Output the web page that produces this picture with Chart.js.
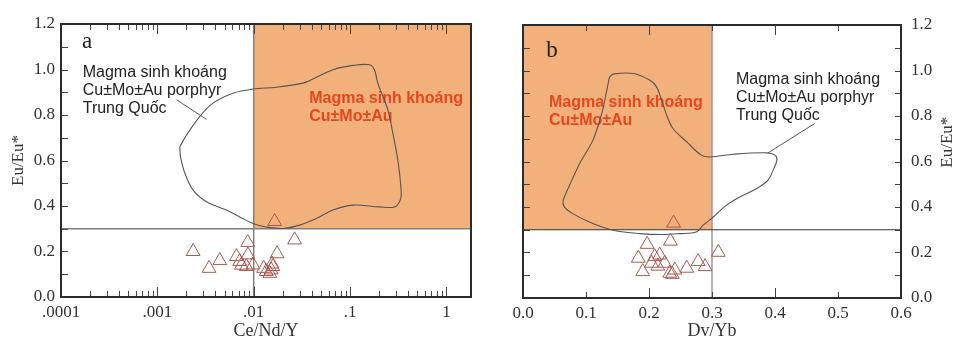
<!DOCTYPE html>
<html>
<head>
<meta charset="utf-8">
<script src="https://cdn.jsdelivr.net/npm/chart.js@4.4.0/dist/chart.umd.min.js"></script>
<style>
  html, body { margin: 0; padding: 0; background: #fff; }
  #wrap { position: relative; width: 954px; height: 342px; }
  #boxA { position: absolute; left: 0; top: 0; }
  #boxB { position: absolute; left: 480px; top: 0; }
</style>
</head>
<body>
<div id="wrap">
  <div id="boxA"><canvas id="chartA" width="480" height="342"></canvas></div>
  <div id="boxB"><canvas id="chartB" width="474" height="342"></canvas></div>
</div>
<script>
// ---- panel a : Eu/Eu* vs Ce/Nd/Y ----
const tickValuesA = [0.0001, 0.001, 0.01, 0.1, 1];
const tickLabelsA = ['.0001', '.001', '.01', '.1', '1'];
const ceNdY = [0.00235, 0.00344, 0.00445, 0.00662, 0.00716, 0.00746, 0.00867, 0.0087, 0.0084, 0.00984,
               0.0127, 0.0135, 0.0147, 0.0152, 0.0155, 0.0158, 0.0175, 0.0165, 0.0266];
const euA = [0.200, 0.126, 0.160, 0.178, 0.156, 0.140, 0.240, 0.185, 0.134, 0.141,
             0.126, 0.112, 0.104, 0.119, 0.145, 0.134, 0.190, 0.332, 0.251];

// field of porphyry magmas in China (outline), panel a
const outlineAx = [0.00171, 0.00201, 0.00275, 0.00378, 0.0061, 0.00984, 0.0172, 0.0324, 0.0412, 0.0664,
                   0.107, 0.159, 0.179, 0.194, 0.247, 0.278, 0.313, 0.340, 0.326, 0.289,
                   0.202, 0.107, 0.0664, 0.0447, 0.030, 0.0201, 0.0135, 0.00984, 0.00716, 0.00521,
                   0.00324, 0.00235, 0.00193, 0.00174, 0.00171];
const outlineAy = [0.661, 0.712, 0.793, 0.852, 0.896, 0.914, 0.922, 0.940, 0.958, 0.999,
                   1.018, 1.021, 0.999, 0.940, 0.822, 0.720, 0.602, 0.455, 0.419, 0.396,
                   0.396, 0.404, 0.382, 0.345, 0.316, 0.301, 0.308, 0.323, 0.352, 0.382,
                   0.419, 0.470, 0.544, 0.617, 0.661];
const leaderAx = [0.00158, 0.00324];
const leaderAy = [0.867, 0.781];

// ---- panel b : Eu/Eu* vs Dy/Yb ----
const tickValuesB = [0, 0.1, 0.2, 0.3, 0.4, 0.5, 0.6];
const tickLabelsB = ['0.0', '0.1', '0.2', '0.3', '0.4', '0.5', '0.6'];
const dyYb = [0.239, 0.234, 0.197, 0.183, 0.209, 0.217, 0.204, 0.225, 0.190, 0.233,
              0.241, 0.237, 0.260, 0.278, 0.289, 0.310, 0.214];
const euB = [0.329, 0.250, 0.236, 0.175, 0.182, 0.189, 0.153, 0.153, 0.116, 0.109,
             0.123, 0.104, 0.131, 0.160, 0.138, 0.201, 0.140];

const outlineBx = [0.137, 0.143, 0.175, 0.201, 0.212, 0.220, 0.228, 0.238, 0.260, 0.283,
                   0.297, 0.334, 0.387, 0.400, 0.403, 0.397, 0.389, 0.371, 0.344, 0.323,
                   0.302, 0.286, 0.275, 0.249, 0.222, 0.185, 0.143, 0.111, 0.079, 0.065,
                   0.064, 0.074, 0.090, 0.111, 0.125, 0.132, 0.137];
const outlineBy = [0.970, 0.984, 0.987, 0.958, 0.928, 0.870, 0.804, 0.745, 0.686, 0.628,
                   0.620, 0.632, 0.638, 0.628, 0.606, 0.562, 0.518, 0.481, 0.444, 0.408,
                   0.356, 0.320, 0.290, 0.283, 0.279, 0.283, 0.298, 0.327, 0.371, 0.403,
                   0.430, 0.496, 0.591, 0.694, 0.811, 0.899, 0.970];
const leaderBx = [0.389, 0.463];
const leaderBy = [0.638, 0.767];

const tickValuesEu = [0, 0.2, 0.4, 0.6, 0.8, 1.0, 1.2];

const SERIF = "'Liberation Serif', 'Times New Roman', serif";
const SANS = "'Liberation Sans', Arial, sans-serif";
const FIELD_FILL = '#f2b07b';
const RED_TEXT = '#e8461e';
const TRI_COLOR = '#a85a50';
const OUTLINE = '#555555';
const INK = '#2b2b2b';

const pts = (xs, ys) => xs.map((v, i) => ({ x: v, y: ys[i] }));

function drawLines(ctx, lines, x, y, lh, font, color) {
  ctx.font = font;
  ctx.fillStyle = color;
  ctx.textAlign = 'left';
  ctx.textBaseline = 'middle';
  lines.forEach((t, i) => ctx.fillText(t, x, y + i * lh));
}

const decor = {
  id: 'decor',
  beforeDatasetsDraw(chart, args, o) {
    const { ctx, chartArea: a, scales: { x, y } } = chart;
    ctx.save();
    // shaded field
    const fx0 = x.getPixelForValue(o.field[0]), fx1 = x.getPixelForValue(o.field[1]);
    const fy0 = y.getPixelForValue(o.field[2]), fy1 = y.getPixelForValue(o.field[3]);
    ctx.fillStyle = FIELD_FILL;
    ctx.fillRect(Math.min(fx0, fx1), Math.min(fy0, fy1), Math.abs(fx1 - fx0), Math.abs(fy1 - fy0));
    // threshold lines
    const vx = x.getPixelForValue(o.vline);
    ctx.strokeStyle = o.vColor;
    ctx.lineWidth = 1.5;
    ctx.beginPath(); ctx.moveTo(vx, a.top); ctx.lineTo(vx, a.bottom); ctx.stroke();
    const hy = y.getPixelForValue(o.hline);
    ctx.strokeStyle = o.hColor;
    ctx.lineWidth = o.hWidth;
    ctx.beginPath(); ctx.moveTo(a.left, hy); ctx.lineTo(a.right, hy); ctx.stroke();
    // labels
    o.labels.forEach(l => {
      drawLines(ctx, l.lines, x.getPixelForValue(l.x), y.getPixelForValue(l.y), l.lh, l.font, l.color);
    });
    ctx.font = '23px ' + SERIF;
    ctx.fillStyle = '#222';
    ctx.textBaseline = 'alphabetic';
    ctx.fillText(o.letter.text, x.getPixelForValue(o.letter.x), y.getPixelForValue(o.letter.y));
    ctx.restore();
  },
  afterDatasetsDraw(chart, args, o) {
    const { ctx, chartArea: a, scales: { x, y } } = chart;
    ctx.save();
    ctx.strokeStyle = '#444';
    ctx.lineWidth = 1;
    ctx.beginPath();
    // inward ticks on x (bottom and top)
    o.xTicks.forEach(t => {
      const px = Math.round(x.getPixelForValue(t.v)) + 0.5;
      ctx.moveTo(px, a.bottom); ctx.lineTo(px, a.bottom - t.len);
      ctx.moveTo(px, a.top); ctx.lineTo(px, a.top + t.len);
    });
    // inward ticks on y
    for (let k = 0; k <= 12; k++) {
      const py = Math.round(y.getPixelForValue(k / 10)) + 0.5;
      if (o.yLeft) { ctx.moveTo(a.left, py); ctx.lineTo(a.left + 7, py); }
      if (o.yRight) { ctx.moveTo(a.right, py); ctx.lineTo(a.right - 6, py); }
    }
    ctx.stroke();
    // frame
    ctx.strokeStyle = INK;
    ctx.lineWidth = 2;
    ctx.strokeRect(a.left, a.top, a.right - a.left, a.bottom - a.top);
    // right-hand axis title
    if (o.rightTitle) {
      ctx.translate(chart.width - 6, y.getPixelForValue(o.rightTitle.y));
      ctx.rotate(-Math.PI / 2);
      ctx.font = '17px ' + SERIF;
      ctx.fillStyle = '#333';
      ctx.textAlign = 'center';
      ctx.textBaseline = 'middle';
      ctx.fillText(o.rightTitle.text, 0, 0);
    }
    ctx.restore();
  }
};

const tickFont = { family: SERIF, size: 17 };
const titleFont = { family: SERIF, size: 18 };

function euAxis(position, width, pad) {
  return {
    type: 'linear', min: 0, max: 1.2, position: position,
    grid: { display: false, drawTicks: false }, border: { display: false },
    afterBuildTicks: s => { s.ticks = tickValuesEu.map(v => ({ value: v })); },
    ticks: { font: tickFont, color: '#333', padding: pad, callback: v => v.toFixed(1) },
    title: { display: position === 'left', text: 'Eu/Eu*', font: { family: SERIF, size: 17 }, color: '#333', padding: { top: 8, bottom: 0 } },
    afterFit: s => { s.width = width; }
  };
}

function baseDatasets(px, py, ox, oy, lx, ly) {
  return [
    { data: pts(px, py), pointStyle: 'triangle', pointRadius: 8, borderColor: TRI_COLOR,
      backgroundColor: 'rgba(0,0,0,0)', borderWidth: 1, showLine: false },
    { data: pts(ox, oy), showLine: true, tension: 0.35, pointRadius: 0, borderColor: OUTLINE,
      borderWidth: 1.1, fill: false },
    { data: pts(lx, ly), showLine: true, tension: 0, pointRadius: 0, borderColor: OUTLINE,
      borderWidth: 1, fill: false }
  ];
}

// minor/major tick marks of the log axis
const logTicks = [];
for (let e = -4; e <= 0; e++) {
  for (let m = 1; m <= 9; m++) {
    const v = m * Math.pow(10, e);
    if (v <= 1.8) logTicks.push({ v: v, len: m === 1 ? 10 : 6 });
  }
}

new Chart(document.getElementById('chartA'), {
  type: 'scatter',
  data: { datasets: baseDatasets(ceNdY, euA, outlineAx, outlineAy, leaderAx, leaderAy) },
  options: {
    responsive: false, animation: false, events: [],
    layout: { padding: { top: 24, right: 9, left: 0, bottom: 0 } },
    plugins: {
      legend: { display: false }, tooltip: { enabled: false },
      decor: {
        field: [0.01, 1.8, 0.3, 1.2], vline: 0.01, vColor: '#808080', hline: 0.3, hColor: '#808080', hWidth: 1.5,
        letter: { text: 'a', x: 0.000165, y: 1.096 },
        labels: [
          { lines: ['Magma sinh khoáng', 'Cu±Mo±Au porphyr', 'Trung Quốc'], x: 0.000168, y: 0.988, lh: 18.3, font: '16px ' + SANS, color: '#222' },
          { lines: ['Magma sinh khoáng', 'Cu±Mo±Au'], x: 0.0377, y: 0.873, lh: 18, font: 'bold 16px ' + SANS, color: RED_TEXT }
        ],
        xTicks: logTicks, yLeft: true, yRight: false
      }
    },
    scales: {
      x: {
        type: 'logarithmic', min: 0.0001, max: 1.8, position: 'bottom',
        grid: { display: false, drawTicks: false }, border: { display: false },
        afterBuildTicks: s => { s.ticks = tickValuesA.map(v => ({ value: v, major: true })); },
        ticks: { font: tickFont, color: '#333', padding: 5, maxRotation: 0, autoSkip: false,
                 callback: (v, i) => tickLabelsA[i] },
        title: { display: true, text: 'Ce/Nd/Y', font: titleFont, color: '#333', padding: { top: 0, bottom: 0 } },
        afterFit: s => { s.height = 45; }
      },
      y: euAxis('left', 61, 6)
    }
  },
  plugins: [decor]
});

new Chart(document.getElementById('chartB'), {
  type: 'scatter',
  data: { datasets: baseDatasets(dyYb, euB, outlineBx, outlineBy, leaderBx, leaderBy) },
  options: {
    responsive: false, animation: false, events: [],
    layout: { padding: { top: 25, right: 0, left: 43, bottom: 0 } },
    plugins: {
      legend: { display: false }, tooltip: { enabled: false },
      decor: {
        field: [0, 0.3, 0.3, 1.2], vline: 0.3, vColor: '#9a9a9a', hline: 0.3, hColor: '#333', hWidth: 1,
        letter: { text: 'b', x: 0.037, y: 1.060 },
        labels: [
          { lines: ['Magma sinh khoáng', 'Cu±Mo±Au porphyr', 'Trung Quốc'], x: 0.338, y: 0.962, lh: 18.3, font: '16px ' + SANS, color: '#222' },
          { lines: ['Magma sinh khoáng', 'Cu±Mo±Au'], x: 0.0413, y: 0.857, lh: 18, font: 'bold 16px ' + SANS, color: RED_TEXT }
        ],
        xTicks: tickValuesB.map((v, i) => ({ v: v, len: i % 2 === 0 ? 10 : 6 })),
        yLeft: true, yRight: true,
        rightTitle: { text: 'Eu/Eu*', y: 0.685 }
      }
    },
    scales: {
      x: {
        type: 'linear', min: 0, max: 0.6, position: 'bottom',
        grid: { display: false, drawTicks: false }, border: { display: false },
        afterBuildTicks: s => { s.ticks = tickValuesB.map(v => ({ value: v })); },
        ticks: { font: tickFont, color: '#333', padding: 5, maxRotation: 0, autoSkip: false,
                 callback: (v, i) => tickLabelsB[i] },
        title: { display: true, text: 'Dv/Yb', font: titleFont, color: '#333', padding: { top: 0, bottom: 0 } },
        afterFit: s => { s.height = 44; }
      },
      y: euAxis('right', 53, 10)
    }
  },
  plugins: [decor]
});
</script>
</body>
</html>
